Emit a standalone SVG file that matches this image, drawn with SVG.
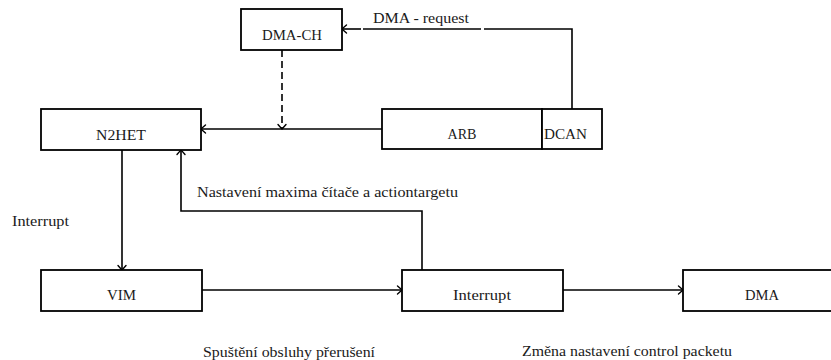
<svg xmlns="http://www.w3.org/2000/svg" width="831" height="360" viewBox="0 0 831 360">
  <style>
    .box { fill: #ffffff; stroke: #000000; stroke-width: 1.8; }
    text { font-family: "Liberation Serif", "Times New Roman", serif; font-size: 14px; fill: #1a1a1a; }
    .mid { text-anchor: middle; }
    .wire { fill: none; stroke: #000000; stroke-width: 1.6; }
    .dash { stroke-dasharray: 7 4; }
  </style>
  <defs>
    <marker id="to" markerUnits="userSpaceOnUse" markerWidth="12" markerHeight="12" viewBox="-6 -6 12 12" refX="0" refY="0" orient="auto">
      <path d="M -4.5 -4 Q -1 -1 0 0 Q -1 1 -4.5 4" fill="none" stroke="#000000" stroke-width="1.4" stroke-linecap="round"/>
    </marker>
  </defs>
  <rect width="831" height="360" fill="#ffffff"/>

  <!-- connectors -->
  <g id="connectors">
    <path class="wire" d="M 572 109 V 29 H 484"/>
    <path class="wire" d="M 481 29 H 363"/>
    <path class="wire" d="M 361 29 H 342" marker-end="url(#to)"/>
    <path class="wire" d="M 382 129 H 201" marker-end="url(#to)"/>
    <path class="wire dash" d="M 282 50 V 129" marker-end="url(#to)"/>
    <path class="wire" d="M 122 150 V 270" marker-end="url(#to)"/>
    <path class="wire" d="M 422 270 V 211 H 181 V 150" marker-end="url(#to)"/>
    <path class="wire" d="M 202 290 H 402" marker-end="url(#to)"/>
    <path class="wire" d="M 563 290 H 683" marker-end="url(#to)"/>
  </g>

  <!-- nodes -->
  <g id="dma-ch">
    <rect class="box" x="241" y="9" width="101" height="41"/>
    <text class="mid" x="292" y="40" textLength="60" lengthAdjust="spacingAndGlyphs">DMA-CH</text>
  </g>
  <g id="n2het">
    <rect class="box" x="41" y="109" width="160" height="41"/>
    <text class="mid" x="121" y="140" textLength="50" lengthAdjust="spacingAndGlyphs">N2HET</text>
  </g>
  <g id="arb">
    <rect class="box" x="382" y="109" width="160" height="40"/>
    <text class="mid" x="462" y="139" textLength="29" lengthAdjust="spacingAndGlyphs">ARB</text>
  </g>
  <g id="dcan">
    <rect class="box" x="542" y="109" width="60" height="40"/>
    <text x="544" y="139" textLength="43" lengthAdjust="spacingAndGlyphs">DCAN</text>
  </g>
  <g id="vim">
    <rect class="box" x="41" y="270" width="161" height="41"/>
    <text class="mid" x="121.5" y="300" textLength="29" lengthAdjust="spacingAndGlyphs">VIM</text>
  </g>
  <g id="interrupt">
    <rect class="box" x="402" y="270" width="161" height="41"/>
    <text class="mid" x="482" y="300" textLength="58" lengthAdjust="spacingAndGlyphs">Interrupt</text>
  </g>
  <g id="dma">
    <rect class="box" x="683" y="270" width="160" height="41"/>
    <text class="mid" x="762" y="300" textLength="34" lengthAdjust="spacingAndGlyphs">DMA</text>
  </g>

  <!-- edge labels -->
  <g id="labels">
    <text x="373" y="23" textLength="96" lengthAdjust="spacingAndGlyphs">DMA - request</text>
    <text x="197" y="197" textLength="261" lengthAdjust="spacingAndGlyphs">Nastavení maxima čítače a actiontargetu</text>
    <text x="12" y="226" textLength="57" lengthAdjust="spacingAndGlyphs">Interrupt</text>
    <text x="203" y="357" textLength="172" lengthAdjust="spacingAndGlyphs">Spuštění obsluhy přerušení</text>
    <text x="522" y="356" textLength="210" lengthAdjust="spacingAndGlyphs">Změna nastavení control packetu</text>
  </g>
</svg>
